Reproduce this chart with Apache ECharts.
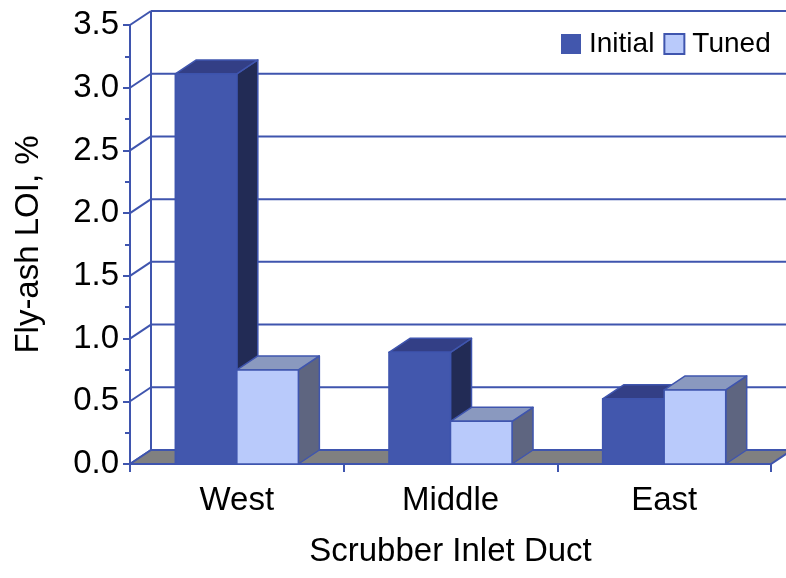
<!DOCTYPE html>
<html>
<head>
    <meta charset="utf-8">
    <title>Fly-ash LOI</title>
    <script src="https://cdn.jsdelivr.net/npm/echarts@6/dist/echarts.min.js"></script>
</head>
<body style="margin:0">
<div id="main" style="width: 786px;height:578px;"></div>
<script type="text/javascript">
    // data
    var ducts = ['West', 'Middle', 'East'];
    var initial = [3.11, 0.89, 0.52];
    var tuned = [0.75, 0.34, 0.59];
    var yTicks = [0, 0.5, 1.0, 1.5, 2.0, 2.5, 3.0, 3.5];

    var myChart = echarts.init(document.getElementById('main'));

    // depth of the fake 3d box
    var DX = 21, DY = -14;
    var BLUE = '#3F55AE';
    var font = '"Liberation Sans", Arial, sans-serif';

    var shades = {
        Initial: { front: '#4257AD', top: '#333F86', side: '#222B55' },
        Tuned: { front: '#B9CAFB', top: '#8A99BF', side: '#5E6580' }
    };

    function wallItem(params, api) {
        var cs = params.coordSys;
        var v = api.value(0);
        var y = api.coord([0, v])[1];
        var x0 = cs.x;
        var kids = [
            { type: 'line', shape: { x1: x0, y1: y, x2: x0 + DX, y2: y + DY },
              style: { stroke: BLUE, lineWidth: 2 } },
            { type: 'line', shape: { x1: x0 + DX, y1: y + DY, x2: x0 + cs.width + DX, y2: y + DY },
              style: { stroke: BLUE, lineWidth: 2 } }
        ];
        if (params.dataIndex === 0) {
            var yTop = api.coord([0, yTicks[yTicks.length - 1]])[1];
            kids.push({ type: 'line', shape: { x1: x0 + DX, y1: y + DY, x2: x0 + DX, y2: yTop + DY },
                style: { stroke: BLUE, lineWidth: 2 } });
        }
        return { type: 'group', children: kids };
    }

    function floorItem(params, api) {
        var cs = params.coordSys;
        var y = api.coord([0, 0])[1];
        var x0 = cs.x, x1 = cs.x + cs.width;
        return {
            type: 'polygon',
            shape: { points: [[x0, y], [x1, y], [x1 + DX, y + DY], [x0 + DX, y + DY]] },
            style: { fill: '#808080', stroke: BLUE, lineWidth: 2 }
        };
    }

    function barRenderer(name, side) {
        var c = shades[name];
        return function (params, api) {
            var top = api.coord([api.value(0), api.value(1)]);
            var base = api.coord([api.value(0), 0]);
            var band = api.size([1, 0])[0];
            var bw = band * 0.288;
            var x = side < 0 ? top[0] - bw : top[0];
            var t = top[1], b = base[1];
            var st = { stroke: BLUE, lineWidth: 1.5, lineJoin: 'round' };
            return {
                type: 'group',
                children: [
                    { type: 'polygon',
                      shape: { points: [[x + bw, t], [x + bw + DX, t + DY], [x + bw + DX, b + DY], [x + bw, b]] },
                      style: Object.assign({ fill: c.side }, st) },
                    { type: 'polygon',
                      shape: { points: [[x, t], [x + bw, t], [x + bw + DX, t + DY], [x + DX, t + DY]] },
                      style: Object.assign({ fill: c.top }, st) },
                    { type: 'rect',
                      shape: { x: x, y: t, width: bw, height: b - t },
                      style: Object.assign({ fill: c.front }, st) }
                ]
            };
        };
    }

    var option = {
        animation: false,
        backgroundColor: '#ffffff',
        textStyle: { fontFamily: font },
        grid: { left: 130, right: 15, top: 25, bottom: 114 },
        legend: {
            left: 561, top: 30, padding: 0,
            itemWidth: 20, itemHeight: 20, itemGap: 9,
            icon: 'rect',
            textStyle: { fontSize: 28, color: '#000', fontFamily: font, padding: [0, 0, 0, 3] },
            data: [
                { name: 'Initial', itemStyle: { color: shades.Initial.front, borderWidth: 0 } },
                { name: 'Tuned', itemStyle: { color: shades.Tuned.front, borderColor: BLUE, borderWidth: 2 } }
            ]
        },
        xAxis: {
            type: 'category',
            data: ducts,
            boundaryGap: true,
            name: 'Scrubber Inlet Duct',
            nameLocation: 'middle',
            nameGap: 71,
            nameTextStyle: { fontSize: 33, color: '#000', fontFamily: font },
            axisLine: { show: true, lineStyle: { color: BLUE, width: 2 } },
            axisTick: { show: true, length: 8, interval: 0, lineStyle: { color: BLUE, width: 2 } },
            axisLabel: { fontSize: 33, color: '#000', margin: 20, fontFamily: font },
            splitLine: { show: false }
        },
        yAxis: {
            type: 'value',
            min: 0, max: 3.5, interval: 0.5,
            name: 'Fly-ash LOI, %',
            nameLocation: 'middle',
            nameGap: 85,
            nameTextStyle: { fontSize: 33, color: '#000', fontFamily: font },
            axisLine: { show: true, lineStyle: { color: BLUE, width: 2 } },
            axisTick: { show: true, length: 7, lineStyle: { color: BLUE, width: 2 } },
            minorTick: { show: true, splitNumber: 2, length: 5, lineStyle: { color: BLUE, width: 2 } },
            axisLabel: {
                fontSize: 33, color: '#000', margin: 11, fontFamily: font,
                formatter: function (v) { return v.toFixed(1); }
            },
            splitLine: { show: false }
        },
        series: [
            { type: 'custom', z: 1, silent: true, data: yTicks.map(function (v) { return [v]; }),
              encode: { y: 0 }, renderItem: wallItem },
            { type: 'custom', z: 2, silent: true, data: [[0]], encode: { y: 0 }, renderItem: floorItem },
            { name: 'Initial', type: 'custom', z: 3,
              itemStyle: { color: shades.Initial.front },
              data: initial.map(function (v, i) { return [i, v]; }),
              encode: { x: 0, y: 1 }, renderItem: barRenderer('Initial', -1) },
            { name: 'Tuned', type: 'custom', z: 4,
              itemStyle: { color: shades.Tuned.front },
              data: tuned.map(function (v, i) { return [i, v]; }),
              encode: { x: 0, y: 1 }, renderItem: barRenderer('Tuned', 1) }
        ]
    };
    myChart.setOption(option);
</script>
</body>
</html>
